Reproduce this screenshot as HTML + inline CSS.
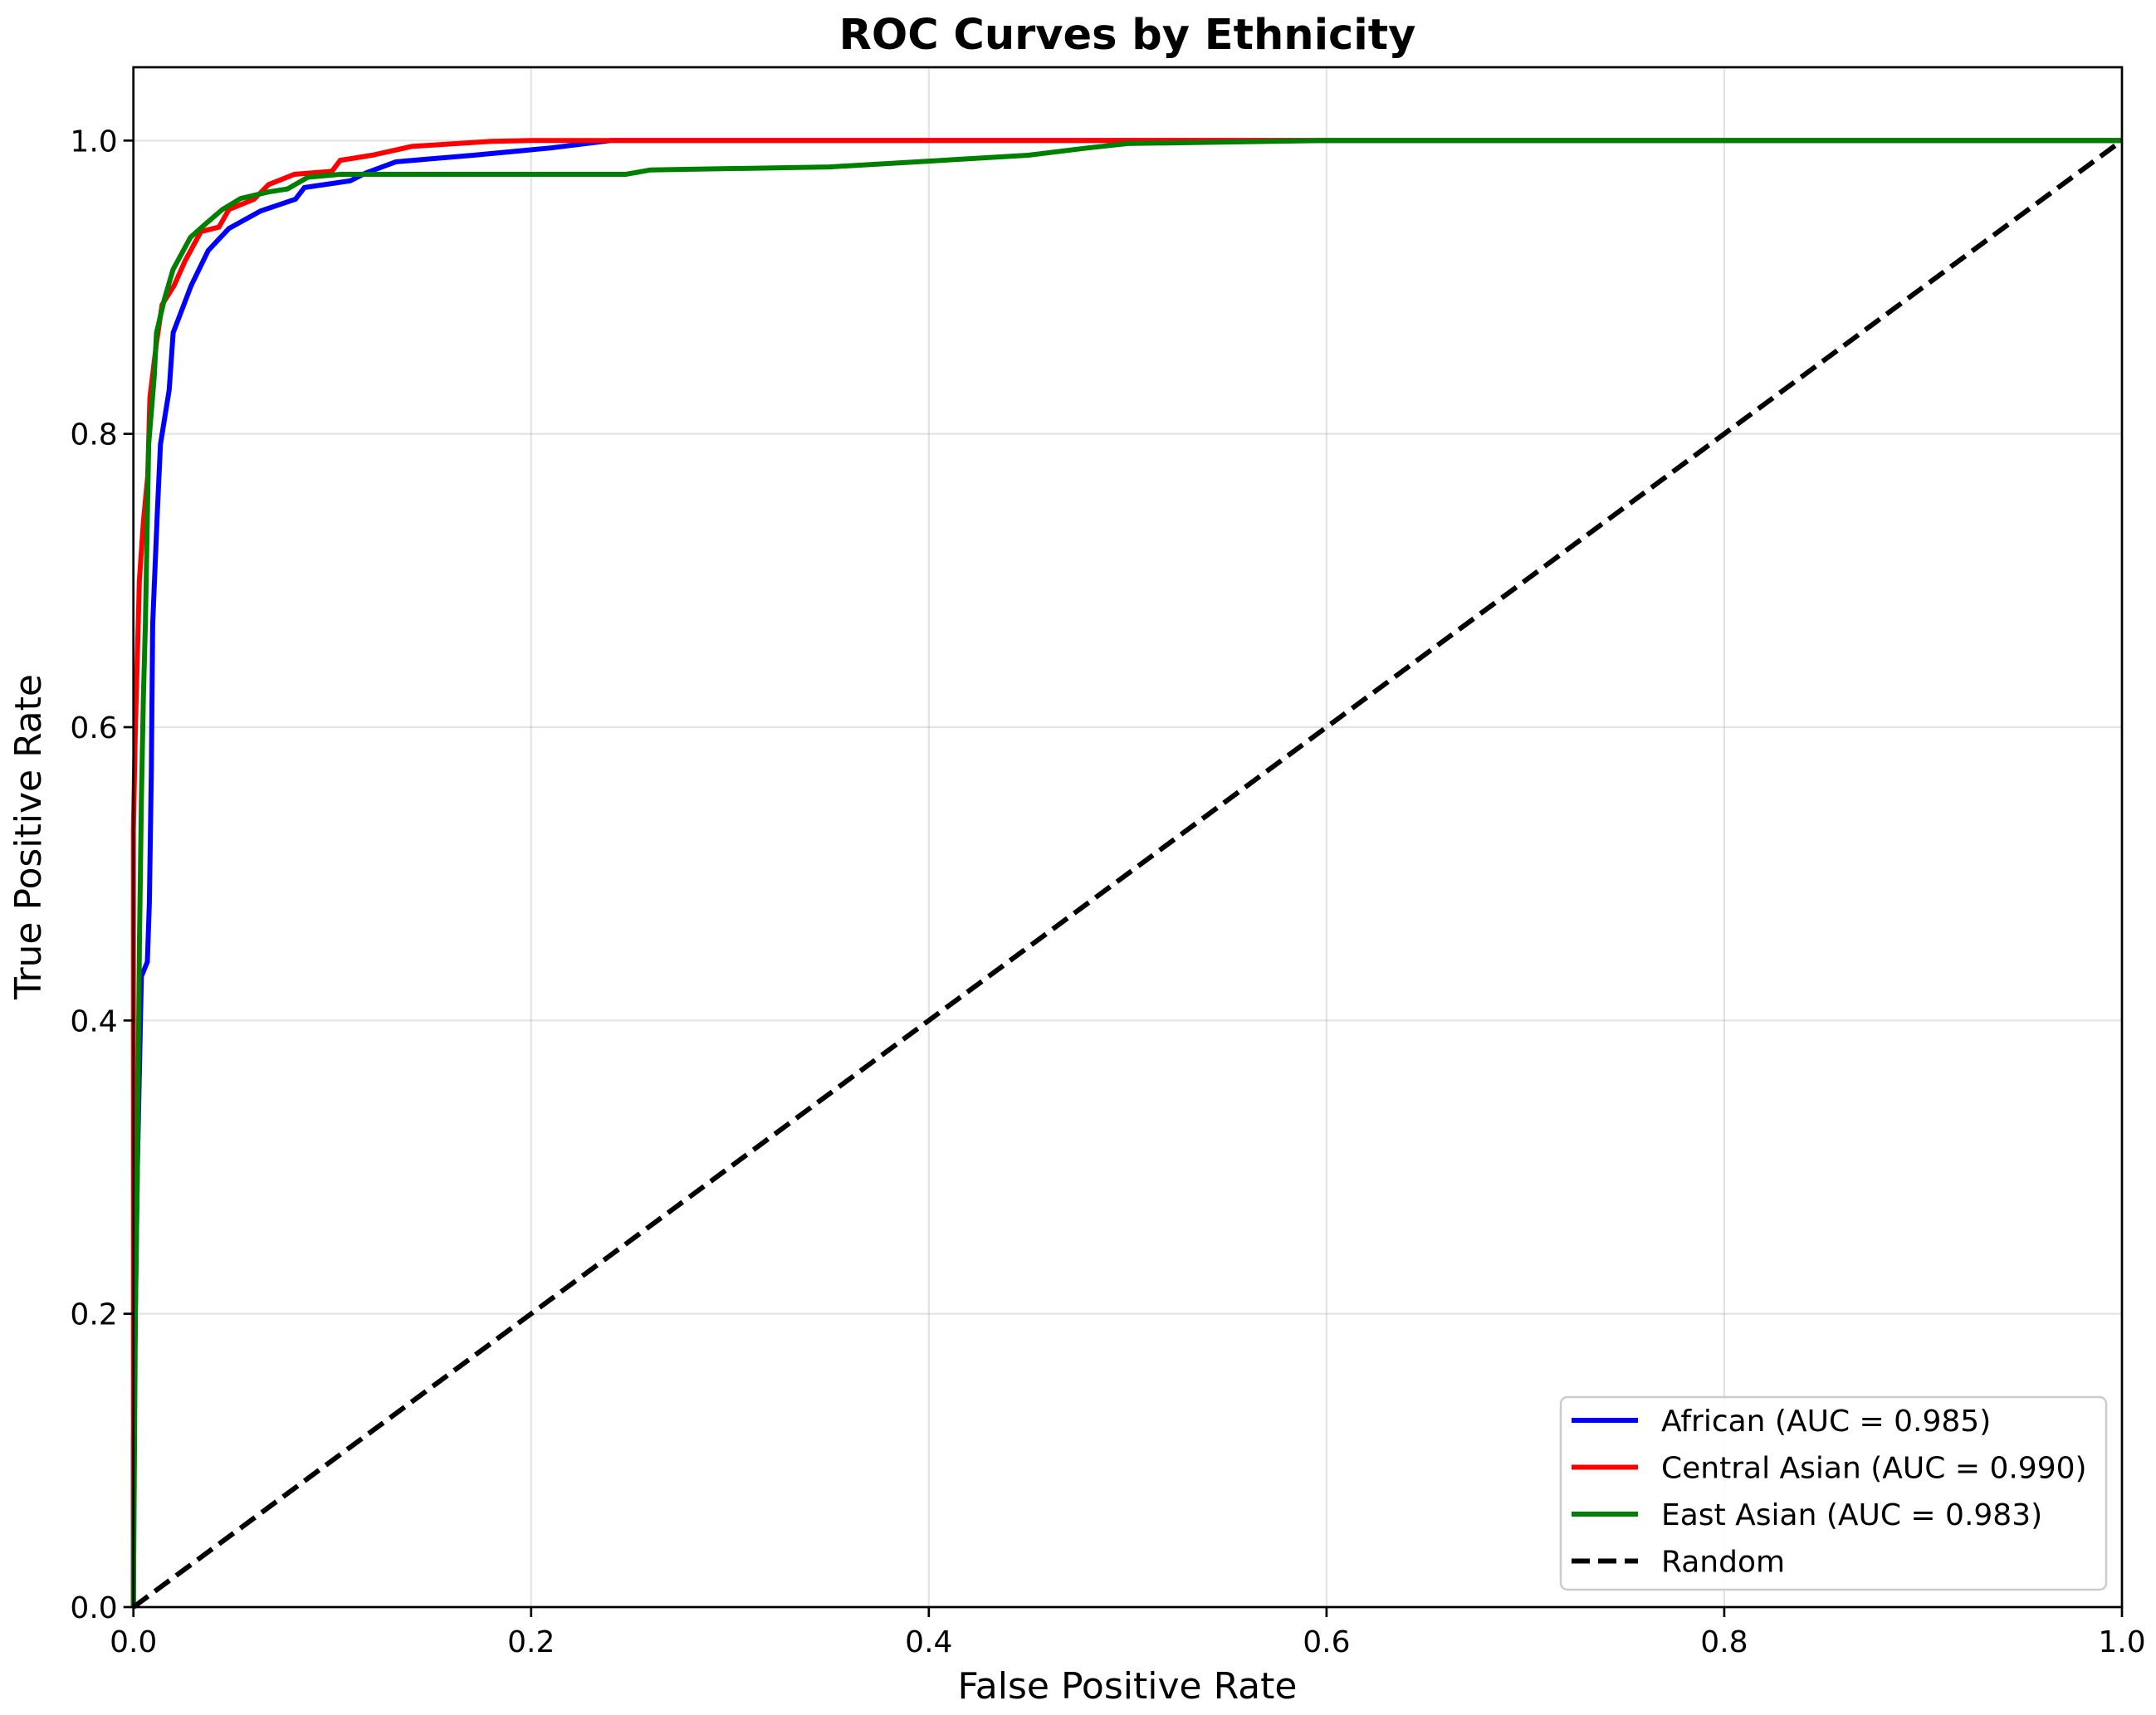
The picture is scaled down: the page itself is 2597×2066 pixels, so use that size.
<!DOCTYPE html>
<html><head><meta charset="utf-8"><style>
html,body{margin:0;padding:0;background:#fff;}
svg{display:block;font-family:"DejaVu Sans","Liberation Sans",sans-serif;}
</style></head><body>
<svg id="chart" width="2597" height="2066" viewBox="0 0 2597 2066">
<rect width="2597" height="2066" fill="#fff"/>
<text x="1358" y="59" text-anchor="middle" font-size="51" font-weight="bold">ROC Curves by Ethnicity</text>
<g id="grid"></g>
<g id="series"></g>
<rect x="160.7" y="81" width="2395.3" height="1855" fill="none" stroke="#000" stroke-width="2.7"/>
<g id="ticks"></g>
<text x="1358" y="2046" text-anchor="middle" font-size="44">False Positive Rate</text>
<text x="0" y="0" transform="translate(49,1008) rotate(-90)" text-anchor="middle" font-size="44">True Positive Rate</text>
<g id="legend">
<rect x="1880" y="1683" width="657" height="232" rx="8" fill="#fff" fill-opacity="0.85" stroke="#ccc" stroke-width="2.5"/>
</g>
</svg>
<script>
const africanFpr=[0,0,0.002,0.004,0.007,0.008,0.009,0.0097,0.012,0.0136,0.018,0.02,0.029,0.0376,0.048,0.064,0.0815,0.086,0.109,0.117,0.132,0.171,0.21,0.24,1];
const africanTpr=[0,0.11,0.3,0.43,0.44,0.48,0.57,0.67,0.745,0.793,0.83,0.869,0.901,0.925,0.94,0.952,0.96,0.968,0.9725,0.978,0.9855,0.99,0.995,1,1];
const centralFpr=[0,0,0.001,0.003,0.005,0.0072,0.0083,0.0116,0.0144,0.0204,0.026,0.034,0.043,0.048,0.0607,0.068,0.081,0.0998,0.104,0.12,0.14,0.18,0.2,1];
const centralTpr=[0,0.53,0.6,0.7,0.74,0.771,0.825,0.862,0.888,0.901,0.918,0.938,0.941,0.953,0.96,0.97,0.977,0.979,0.9865,0.99,0.996,0.9995,1,1];
const eastFpr=[0,0.001,0.002,0.003,0.004,0.005,0.006,0.0077,0.0105,0.0116,0.0156,0.0199,0.0287,0.037,0.0447,0.054,0.068,0.0775,0.0877,0.104,0.2476,0.26,0.35,0.4,0.45,0.48,0.5,0.6,1];
const eastTpr=[0,0.2,0.3,0.45,0.55,0.62,0.67,0.793,0.84,0.869,0.892,0.912,0.934,0.944,0.953,0.9605,0.965,0.967,0.975,0.977,0.977,0.98,0.982,0.986,0.99,0.995,0.998,1,1];
const randomFpr=[0,1];
const randomTpr=[0,1];
const xTicks=[0,0.2,0.4,0.6,0.8,1.0];
const yTicks=[0,0.2,0.4,0.6,0.8,1.0];
const legendLabels=["African (AUC = 0.985)","Central Asian (AUC = 0.990)","East Asian (AUC = 0.983)","Random"];

const X0=160.7,X1=2556,Y0=1936,YT=81,YMAX=1.05;
const xs=v=>X0+v*(X1-X0);
const ys=v=>Y0-v/YMAX*(Y0-YT);
const NS="http://www.w3.org/2000/svg";
function mk(tag,attrs,parent){const e=document.createElementNS(NS,tag);for(const k in attrs)e.setAttribute(k,attrs[k]);parent.appendChild(e);return e;}
const grid=document.getElementById('grid'),ticks=document.getElementById('ticks'),series=document.getElementById('series'),legend=document.getElementById('legend');
xTicks.forEach(t=>{
  const g=mk('line',{x1:xs(t),x2:xs(t),y1:YT,y2:Y0,stroke:'#b0b0b0','stroke-opacity':0.35,'stroke-width':2.2},grid);
  
  
  const tk=mk('line',{x1:xs(t),x2:xs(t),y1:Y0,y2:Y0+12,stroke:'#000','stroke-width':2.7},ticks);
  
  
  const tx=mk('text',{x:xs(t),y:Y0+54,'text-anchor':'middle','font-size':36},ticks);
  tx.textContent=t.toFixed(1);
  
  
});
yTicks.forEach(t=>{
  const g=mk('line',{x1:X0,x2:X1,y1:ys(t),y2:ys(t),stroke:'#b0b0b0','stroke-opacity':0.35,'stroke-width':2.2},grid);
  
  
  const tk=mk('line',{x1:X0-12,x2:X0,y1:ys(t),y2:ys(t),stroke:'#000','stroke-width':2.7},ticks);
  
  
  const tx=mk('text',{x:X0-19,y:ys(t)+13,'text-anchor':'end','font-size':36},ticks);
  tx.textContent=t.toFixed(1);
  
  
});
function drawLine(fx,ty,color,dash,name){
  const pts=fx.map((v,i)=>xs(v).toFixed(1)+','+ys(ty[i]).toFixed(1)).join(' ');
  const p=mk('polyline',{points:pts,fill:'none',stroke:color,'stroke-width':6,'stroke-linejoin':'miter','stroke-dasharray':dash||'none'},series);
  
  
}
drawLine(africanFpr,africanTpr,'#0000ff',null,'african-curve');
drawLine(centralFpr,centralTpr,'#ff0000',null,'central-asian-curve');
drawLine(eastFpr,eastTpr,'#008000',null,'east-asian-curve');
drawLine(randomFpr,randomTpr,'#000','22,10','random-diagonal');
const colors=['#0000ff','#ff0000','#008000','#000'];
legendLabels.forEach((lab,i)=>{
  const y=1711+i*56.5;
  const l=mk('line',{x1:1893,x2:1973,y1:y,y2:y,stroke:colors[i],'stroke-width':6,'stroke-dasharray':i===3?'22,10':'none'},legend);
  
  
  const t=mk('text',{x:2001,y:y+13,'font-size':36},legend);
  t.textContent=lab;
  
  
});
</script>
</body></html>
